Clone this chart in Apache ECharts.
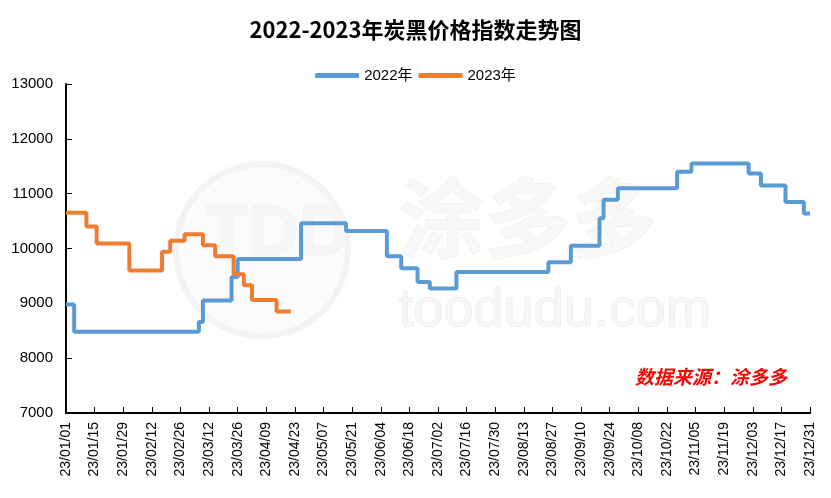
<!DOCTYPE html>
<html>
<head>
<meta charset="utf-8">
<script src="https://cdn.jsdelivr.net/npm/echarts@6/dist/echarts.min.js"></script>
<style>html,body{margin:0;padding:0;background:#fff;}#c{width:831px;height:498px;}</style>
</head>
<body>
<div id="c"></div>
<script>
// Day index (0 = 2023-01-01) where each price level starts, and the level.
const days2022 = [0, 4, 65, 67, 81, 84, 115, 137, 157, 164, 172, 178, 191, 236, 247, 261, 263, 270, 299, 306, 334, 340, 352, 361, 364];
const vals2022 = [8980, 8480, 8660, 9050, 9480, 9810, 10460, 10320, 9860, 9640, 9390, 9270, 9570, 9750, 10050, 10550, 10890, 11100, 11400, 11550, 11370, 11150, 10850, 10640, 10640];
const days2023 = [0, 10, 15, 31, 47, 51, 58, 67, 73, 82, 87, 91, 103, 110];
const vals2023 = [10650, 10400, 10090, 9600, 9940, 10140, 10260, 10060, 9860, 9530, 9330, 9060, 8850, 8850];
const tickLabels = ['23/01/01','23/01/15','23/01/29','23/02/12','23/02/26','23/03/12','23/03/26','23/04/09','23/04/23','23/05/07','23/05/21','23/06/04','23/06/18','23/07/02','23/07/16','23/07/30','23/08/13','23/08/27','23/09/10','23/09/24','23/10/08','23/10/22','23/11/05','23/11/19','23/12/03','23/12/17','23/12/31'];

const chart = echarts.init(document.getElementById('c'));
const pair = (d, v) => d.map((x, i) => [x, v[i]]);
chart.setOption({
  backgroundColor: '#fff',
  animation: false,
  title: {
    text: '2022-2023年炭黑价格指数走势图',
    left: 'center', top: 14,
    textStyle: {fontFamily: 'Noto Sans CJK SC', fontWeight: 'bold', fontSize: 22, color: '#000'}
  },
  legend: {
    top: 63, left: 'center',
    icon: 'roundRect', itemWidth: 44, itemHeight: 5, itemGap: 6,
    textStyle: {fontFamily: 'Liberation Sans, Noto Sans CJK SC', fontSize: 15, color: '#000'},
    data: ['2022年', '2023年']
  },
  graphic: [
    {type: 'circle', shape: {cx: 262, cy: 250, r: 86}, style: {fill: '#fbfbfb', stroke: '#f3f3f3', lineWidth: 6}, z: 0, silent: true},
    {type: 'text', left: 205, top: 200, style: {text: 'TDD', font: 'bold 70px Liberation Sans', fill: '#f6f6f6', stroke: '#ececec', lineWidth: 1}, z: 0, silent: true},
    {type: 'text', left: 398, top: 175, style: {text: '涂多多', font: 'bold 86px Noto Sans CJK SC', fill: '#f8f8f8', stroke: '#eaeaea', lineWidth: 1}, z: 0, silent: true},
    {type: 'text', left: 398, top: 284, style: {text: 'toodudu.com', font: '54px Liberation Sans', fill: '#f6f6f6', stroke: '#e6e6e6', lineWidth: 1}, z: 0, silent: true},
    {type: 'text', right: 44, top: 367, style: {text: '数据来源：涂多多', font: 'italic bold 19px Noto Sans CJK SC', fill: '#ff0000'}, z: 10, silent: true}
  ],
  grid: {left: 66, right: 21, top: 84, bottom: 85, containLabel: false},
  xAxis: {
    type: 'value', min: 0, max: 364, interval: 14,
    splitLine: {show: false},
    axisLine: {show: true, lineStyle: {color: '#000', width: 2}},
    axisTick: {show: true, inside: true, length: 6, lineStyle: {color: '#000', width: 1}},
    axisLabel: {
      rotate: 90, margin: 9, fontSize: 14, color: '#000', fontFamily: 'Liberation Sans',
      formatter: v => tickLabels[Math.round(v / 14)] || ''
    }
  },
  yAxis: {
    type: 'value', min: 7000, max: 13000, interval: 1000,
    splitLine: {show: false},
    axisLine: {show: true, lineStyle: {color: '#000', width: 2}},
    axisTick: {show: true, inside: true, length: 6, lineStyle: {color: '#000', width: 1}},
    axisLabel: {margin: 13, fontSize: 15, color: '#000', fontFamily: 'Liberation Sans', formatter: v => String(v)}
  },
  series: [
    {name: '2022年', type: 'line', step: 'end', data: pair(days2022, vals2022), showSymbol: false, symbol: 'none',
     lineStyle: {color: '#5b9bd5', width: 4}, itemStyle: {color: '#5b9bd5'}, z: 5},
    {name: '2023年', type: 'line', step: 'end', data: pair(days2023, vals2023), showSymbol: false, symbol: 'none',
     lineStyle: {color: '#ed7d31', width: 4}, itemStyle: {color: '#ed7d31'}, z: 5}
  ]
});
</script>
</body>
</html>
